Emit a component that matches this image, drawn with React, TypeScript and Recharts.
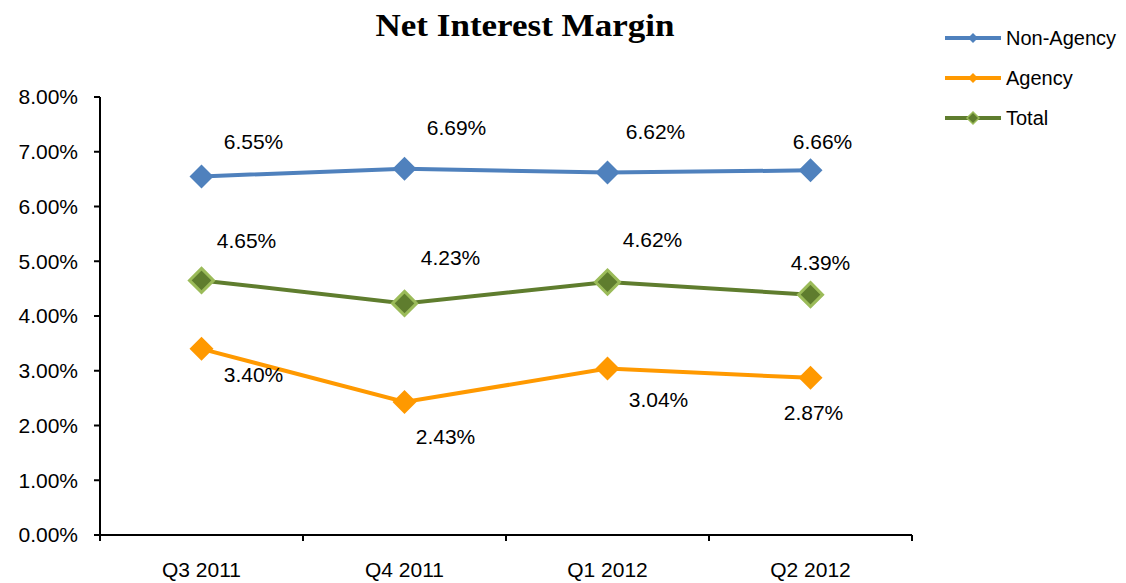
import { LineChart, Line, XAxis, YAxis } from "recharts";

document.body.style.margin = "0";

const quarters = ["Q3 2011", "Q4 2011", "Q1 2012", "Q2 2012"];
const nonAgency = [6.55, 6.69, 6.62, 6.66];
const agency = [3.4, 2.43, 3.04, 2.87];
const total = [4.65, 4.23, 4.62, 4.39];
const yTicks = [0, 1, 2, 3, 4, 5, 6, 7, 8];

// label offsets (px) relative to each point, per series
const nonAgencyOffsets = [[52, -33], [52, -39], [48, -39], [12, -27]];
const agencyOffsets = [[52, 28], [41, 36], [51, 33], [3, 37]];
const totalOffsets = [[45, -38], [46, -44], [45, -41], [10, -30]];

const data = quarters.map((q, i) => ({
  x: i + 0.5,
  name: q,
  nonAgency: nonAgency[i],
  agency: agency[i],
  total: total[i],
}));

const FONT = "Arial, 'Liberation Sans', sans-serif";

const series = [
  { key: "nonAgency", name: "Non-Agency", color: "#4F81BD", fill: "#4F81BD", edge: "#4F81BD", offsets: nonAgencyOffsets },
  { key: "agency", name: "Agency", color: "#FF9900", fill: "#FF9900", edge: "#FF9900", offsets: agencyOffsets },
  { key: "total", name: "Total", color: "#5F7D2E", fill: "#5F7D2E", edge: "#9BBB59", offsets: totalOffsets },
];

function Diamond(props: any) {
  const { cx, cy, fill, stroke, size, sw } = props;
  if (cx == null || cy == null) return null;
  const r = size;
  return (
    <path
      d={`M${cx},${cy - r}L${cx + r},${cy}L${cx},${cy + r}L${cx - r},${cy}Z`}
      fill={fill}
      stroke={stroke}
      strokeWidth={sw}
    />
  );
}

function XTick(props: any) {
  const { x, y, payload } = props;
  const v = payload.value as number;
  if (Number.isInteger(v)) {
    return <line x1={x} y1={y - 8} x2={x} y2={y - 2} stroke="#000" strokeWidth={2} />;
  }
  const idx = Math.floor(v);
  return (
    <text x={x} y={y + 34} textAnchor="middle" fontSize={21} fontFamily={FONT} fill="#000">
      {quarters[idx]}
    </text>
  );
}

function makeLabel(offsets: number[][]) {
  return (props: any) => {
    const { x, y, value, index } = props;
    const [dx, dy] = offsets[index];
    return (
      <text
        x={x + dx}
        y={y + dy}
        textAnchor="middle"
        dominantBaseline="middle"
        fontSize={21}
        fontFamily={FONT}
        fill="#000"
      >
        {Number(value).toFixed(2)}%
      </text>
    );
  };
}

function LegendBox() {
  return (
    <div style={{ position: "absolute", top: 18, left: 944, fontFamily: FONT, fontSize: 20 }}>
      {series.map((s) => (
        <div key={s.key} style={{ display: "flex", alignItems: "center", height: 40 }}>
          <svg width={58} height={20} style={{ marginRight: 4 }}>
            <line x1={1} y1={10} x2={57} y2={10} stroke={s.color} strokeWidth={4} />
            <Diamond cx={29} cy={10} size={s.key === "total" ? 6 : 5} fill={s.fill} stroke={s.edge} sw={s.key === "total" ? 1.5 : 0} />
          </svg>
          <span>{s.name}</span>
        </div>
      ))}
    </div>
  );
}

export default function App() {
  return (
    <div style={{ position: "relative", width: 1126, height: 583, background: "#fff" }}>
      <div
        style={{
          position: "absolute",
          top: 8,
          left: 325,
          width: 400,
          textAlign: "center",
          fontFamily: "'Times New Roman', 'Liberation Serif', serif",
          fontWeight: "bold",
          fontSize: 31,
          transform: "scaleX(1.13)",
        }}
      >
        Net Interest Margin
      </div>
      <LegendBox />
      <LineChart
        width={1126}
        height={583}
        data={data}
        margin={{ top: 97, right: 214, bottom: 0, left: 0 }}
      >
        <XAxis
          dataKey="x"
          type="number"
          domain={[0, 4]}
          ticks={[0, 0.5, 1, 1.5, 2, 2.5, 3, 3.5, 4]}
          interval={0}
          height={48}
          tickLine={false}
          tick={<XTick />}
          axisLine={{ stroke: "#000", strokeWidth: 2 }}
        />
        <YAxis
          type="number"
          domain={[0, 8]}
          ticks={yTicks}
          interval={0}
          width={100}
          tickSize={6}
          tickMargin={16}
          tickFormatter={(v: number) => `${v.toFixed(2)}%`}
          tick={{ fontSize: 21, fontFamily: FONT, fill: "#000" }}
          tickLine={{ stroke: "#000", strokeWidth: 2 }}
          axisLine={{ stroke: "#000", strokeWidth: 2 }}
        />
        {series.map((s) => (
          <Line
            key={s.key}
            dataKey={s.key}
            name={s.name}
            stroke={s.color}
            strokeWidth={4}
            isAnimationActive={false}
            dot={<Diamond fill={s.fill} stroke={s.edge} size={12} sw={s.key === "total" ? 3 : 0} />}
            activeDot={false}
            label={makeLabel(s.offsets)}
          />
        ))}
      </LineChart>
    </div>
  );
}
